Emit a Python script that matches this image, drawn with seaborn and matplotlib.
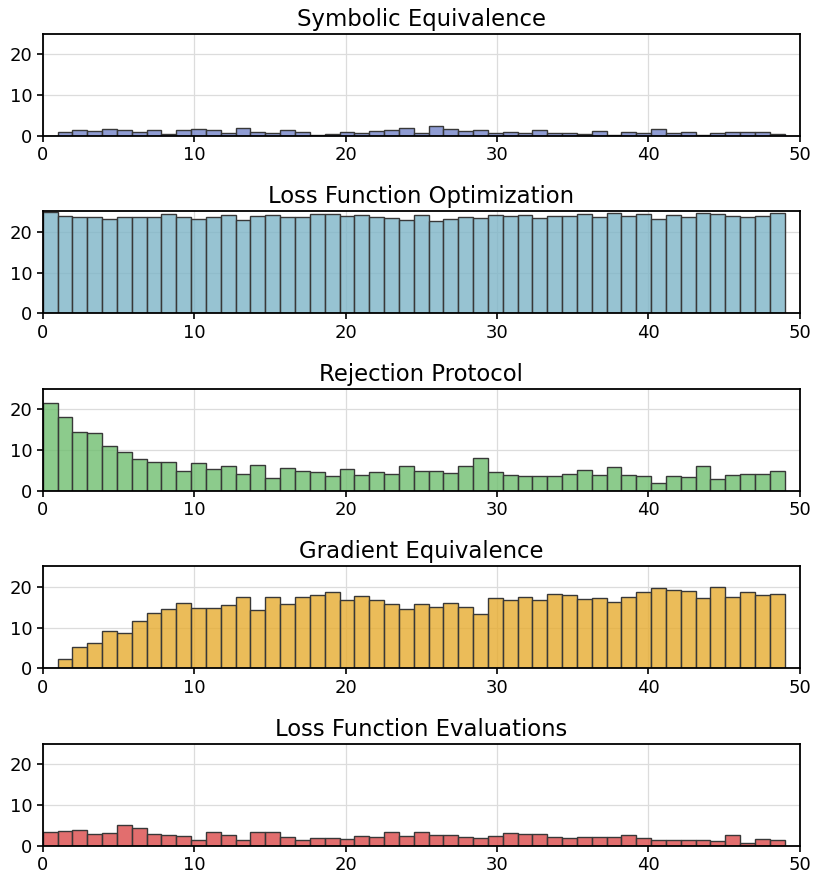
import numpy as np
import pandas as pd
import matplotlib
matplotlib.use("Agg")
import matplotlib.pyplot as plt
import seaborn as sns

# bar heights, 50 bins spanning 0..49
symbolic_equivalence = [0, 1.0, 1.4, 1.3, 1.7, 1.4, 1.1, 1.4, 0.6, 1.4,
                        1.7, 1.4, 0.7, 2.0, 1.0, 0.7, 1.4, 1.1, 0.3, 0.5,
                        1.0, 0.7, 1.3, 1.5, 2.0, 0.65, 2.4, 1.7, 1.3, 1.5,
                        0.7, 1.0, 0.7, 1.5, 0.7, 0.7, 0.5, 1.3, 0.25, 1.0,
                        0.65, 1.8, 0.7, 1.1, 0.3, 0.7, 1.0, 1.1, 1.0, 0.4]
loss_function_optimization = [24.9, 24.0, 23.6, 23.6, 23.2, 23.6, 23.7, 23.6, 24.4, 23.6,
                              23.2, 23.6, 24.2, 22.9, 24.0, 24.2, 23.6, 23.7, 24.5, 24.4,
                              23.9, 24.2, 23.6, 23.3, 22.9, 24.2, 22.6, 23.2, 23.6, 23.3,
                              24.2, 24.0, 24.2, 23.3, 24.0, 24.0, 24.4, 23.6, 24.7, 24.0,
                              24.4, 23.2, 24.2, 23.7, 24.7, 24.4, 24.0, 23.7, 24.0, 24.7]
rejection_protocol = [21.5, 18.1, 14.5, 14.2, 10.9, 9.6, 7.8, 7.0, 7.0, 5.0,
                      6.8, 5.4, 6.0, 4.2, 6.3, 3.2, 5.6, 4.9, 4.6, 3.6,
                      5.4, 4.0, 4.6, 4.2, 6.0, 5.0, 4.9, 4.4, 6.0, 8.0,
                      4.6, 4.0, 3.6, 3.6, 3.6, 4.2, 5.2, 4.0, 5.8, 3.8,
                      3.6, 2.0, 3.6, 3.4, 6.0, 3.0, 3.8, 4.2, 4.2, 4.8]
gradient_equivalence = [0.2, 2.4, 5.3, 6.3, 9.1, 8.7, 11.6, 13.6, 14.6, 16.0,
                        14.7, 14.7, 15.6, 17.4, 14.3, 17.5, 15.7, 17.4, 17.9, 18.8,
                        16.8, 17.8, 16.8, 15.7, 14.6, 15.7, 15.0, 16.0, 15.1, 13.3,
                        17.2, 16.8, 17.5, 16.8, 18.2, 17.9, 17.0, 17.2, 16.4, 17.4,
                        18.8, 19.6, 19.2, 19.0, 17.2, 20.0, 17.6, 18.8, 17.9, 18.2]
loss_function_evaluations = [3.4, 3.6, 3.8, 3.0, 3.2, 5.1, 4.4, 3.0, 2.7, 2.5,
                             1.5, 3.4, 2.6, 1.4, 3.4, 3.4, 2.2, 1.5, 1.9, 1.9,
                             1.8, 2.4, 2.2, 3.4, 2.4, 3.4, 2.7, 2.7, 2.3, 1.9,
                             2.4, 3.2, 3.0, 3.0, 2.3, 1.9, 2.2, 2.3, 2.3, 2.7,
                             1.9, 1.5, 1.4, 1.4, 1.4, 1.1, 2.6, 0.7, 1.8, 1.5]

titles = ["Symbolic Equivalence", "Loss Function Optimization", "Rejection Protocol",
          "Gradient Equivalence", "Loss Function Evaluations"]
series = [symbolic_equivalence, loss_function_optimization, rejection_protocol,
          gradient_equivalence, loss_function_evaluations]
colors = ["#7383c9", "#7db5c7", "#70bf70", "#e7ac2f", "#db4a4a"]

# 50 bins from 0 to 49
n_bins = 50
bin_w = 49 / n_bins
centers = (np.arange(n_bins) + 0.5) * bin_w

sns.set_style("ticks")
plt.rcParams['font.family'] = ['DejaVu Sans']
plt.rcParams['text.color'] = 'black'
plt.rcParams['xtick.color'] = 'black'
plt.rcParams['ytick.color'] = 'black'
plt.rcParams['axes.labelcolor'] = 'black'

fig, axes = plt.subplots(5, 1, figsize=(8.22, 8.83), dpi=100)
fig.subplots_adjust(left=0.052, right=0.973, bottom=0.042, top=0.9615, hspace=0.74)

for ax, title, vals, col in zip(axes, titles, series, colors):
    df = pd.DataFrame({"x": centers, "count": vals})
    sns.histplot(data=df, x="x", weights="count", binwidth=bin_w, binrange=(0, 49),
                 ax=ax, color=col, alpha=0.8, edgecolor="#383838", linewidth=1)
    ax.set_xlim(0, 50)
    ax.set_ylim(0, 25)
    ax.set_xticks([0, 10, 20, 30, 40, 50])
    ax.set_yticks([0, 10, 20])
    ax.set_xlabel("")
    ax.set_ylabel("")
    ax.set_title(title, fontsize=16.4, color="black")
    ax.tick_params(labelsize=13, width=1.2, length=4, colors="black")
    ax.grid(True, color="#dcdcdc", linewidth=0.9)
    ax.set_axisbelow(True)
    for s in ax.spines.values():
        s.set_visible(True)
        s.set_color("black")
        s.set_linewidth(1.3)

plt.savefig("out.png", dpi=100)
